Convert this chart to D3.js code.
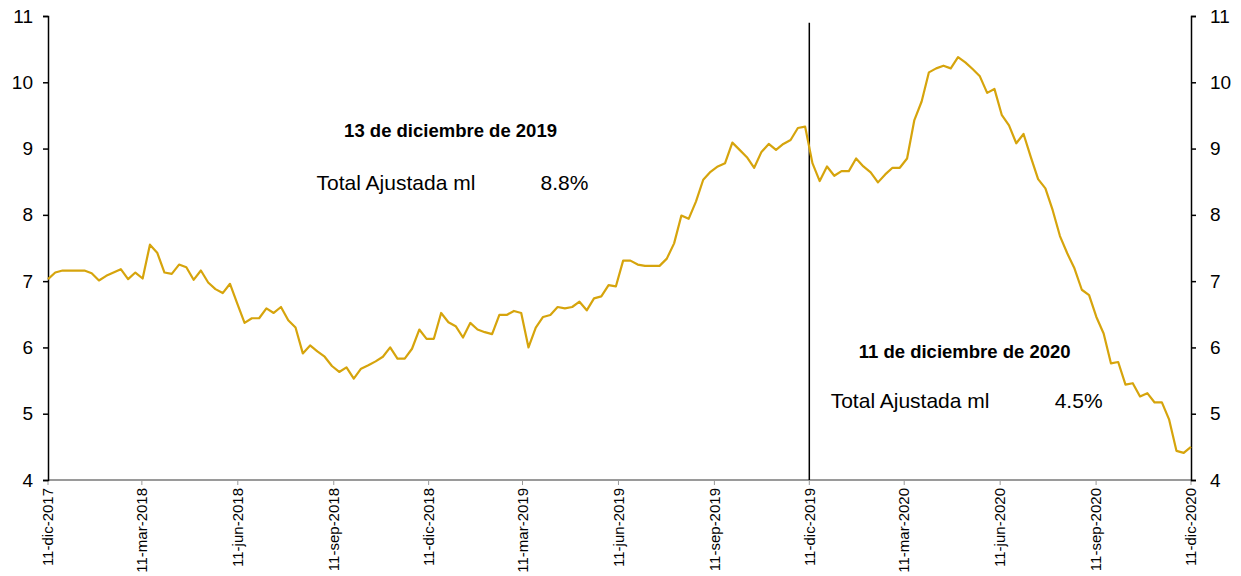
<!DOCTYPE html>
<html>
<head>
<meta charset="utf-8">
<script src="https://cdn.jsdelivr.net/npm/d3@7"></script>
<style>
    body { margin: 0; background: #fff; }
    svg text { font-family: "Liberation Sans", Arial, sans-serif; fill: #000; }
</style>
</head>
<body>
<div id="chart"></div>
<script>
// first and last date of the weekly series
const startDate = new Date(2017, 11, 11);
const endDate = new Date(2020, 11, 11);

// Total Ajustada ml, weekly, %
const values = [
    7.03, 7.13, 7.16, 7.16, 7.16, 7.16, 7.12, 7.01, 7.08, 7.13,
    7.18, 7.03, 7.13, 7.04, 7.55, 7.43, 7.13, 7.11, 7.25, 7.21,
    7.02, 7.16, 6.98, 6.88, 6.82, 6.96, 6.66, 6.37, 6.44, 6.44,
    6.59, 6.52, 6.61, 6.41, 6.30, 5.91, 6.03, 5.94, 5.86, 5.72,
    5.63, 5.70, 5.53, 5.68, 5.73, 5.79, 5.86, 6.00, 5.83, 5.83,
    5.98, 6.27, 6.13, 6.13, 6.52, 6.38, 6.32, 6.15, 6.37, 6.27,
    6.23, 6.20, 6.49, 6.49, 6.55, 6.52, 6.00, 6.30, 6.46, 6.49,
    6.61, 6.59, 6.61, 6.69, 6.56, 6.74, 6.77, 6.94, 6.92, 7.31,
    7.31, 7.25, 7.23, 7.23, 7.23, 7.34, 7.57, 7.99, 7.94, 8.20,
    8.53, 8.65, 8.73, 8.78, 9.09, 8.98, 8.87, 8.71, 8.95, 9.07,
    8.98, 9.07, 9.13, 9.31, 9.33, 8.78, 8.51, 8.73, 8.59, 8.66,
    8.66, 8.85, 8.73, 8.64, 8.49, 8.61, 8.71, 8.71, 8.85, 9.43,
    9.71, 10.15, 10.21, 10.25, 10.21, 10.38, 10.30, 10.20, 10.09, 9.84,
    9.90, 9.51, 9.35, 9.08, 9.22, 8.87, 8.54, 8.40, 8.07, 7.68,
    7.42, 7.19, 6.87, 6.79, 6.46, 6.21, 5.76, 5.78, 5.44, 5.46,
    5.26, 5.31, 5.17, 5.17, 4.91, 4.44, 4.41, 4.50
];

const tickDates = [
    new Date(2017, 11, 11), new Date(2018, 2, 11), new Date(2018, 5, 11),
    new Date(2018, 8, 11), new Date(2018, 11, 11), new Date(2019, 2, 11),
    new Date(2019, 5, 11), new Date(2019, 8, 11), new Date(2019, 11, 11),
    new Date(2020, 2, 11), new Date(2020, 5, 11), new Date(2020, 8, 11),
    new Date(2020, 11, 11)
];
const meses = ['ene', 'feb', 'mar', 'abr', 'may', 'jun', 'jul', 'ago', 'sep', 'oct', 'nov', 'dic'];
const yTicks = [4, 5, 6, 7, 8, 9, 10, 11];

const markerDate = new Date(2019, 11, 11);
const notes = [
    { title: '13 de diciembre de 2019', label: 'Total Ajustada ml', value: '8.8%', date: new Date(2019, 0, 1), y: 9.17, vy: 8.38 },
    { title: '11 de diciembre de 2020', label: 'Total Ajustada ml', value: '4.5%', date: new Date(2020, 4, 8), y: 5.84, vy: 5.09 }
];

const width = 1241;
const height = 576;
const margin = { top: 16, right: 50, bottom: 96, left: 48 };

const svg = d3.select('#chart')
    .append('svg')
    .attr('width', width)
    .attr('height', height);

const x = d3.scaleTime()
    .domain([startDate, endDate])
    .range([margin.left, width - margin.right]);

const y = d3.scaleLinear()
    .domain([4, 11])
    .range([height - margin.bottom, margin.top]);

const points = values.map((v, i) => ({
    date: new Date(+startDate + i * (endDate - startDate) / (values.length - 1)),
    value: v
}));

const fmt = d => `${d.getDate()}-${meses[d.getMonth()]}-${d.getFullYear()}`;

// bottom axis (grey)
svg.append('line')
    .attr('x1', x(startDate)).attr('x2', x(endDate))
    .attr('y1', y(4)).attr('y2', y(4))
    .attr('stroke', '#9a9a9a')
    .attr('stroke-width', 2);

svg.append('g')
    .selectAll('line')
    .data(tickDates)
    .enter()
    .append('line')
    .attr('x1', d => x(d)).attr('x2', d => x(d))
    .attr('y1', y(4)).attr('y2', y(4) + 5)
    .attr('stroke', '#9a9a9a')
    .attr('stroke-width', 1);

svg.append('g')
    .selectAll('text')
    .data(tickDates)
    .enter()
    .append('text')
    .attr('transform', d => `translate(${x(d)},${y(4) + 8}) rotate(-90)`)
    .attr('text-anchor', 'end')
    .attr('dy', '0.35em')
    .style('font-size', '15px')
    .text(fmt);

// left and right axes
const yLeft = d3.axisLeft(y).tickValues(yTicks).tickFormat(d3.format('d')).tickSize(5).tickPadding(10);
const yRight = d3.axisRight(y).tickValues(yTicks).tickFormat(d3.format('d')).tickSize(5).tickPadding(14);

svg.append('g')
    .attr('transform', `translate(${x(startDate)},0)`)
    .call(yLeft)
    .call(g => g.selectAll('text').style('font-size', '19px'));

svg.append('g')
    .attr('transform', `translate(${x(endDate)},0)`)
    .call(yRight)
    .call(g => g.selectAll('text').style('font-size', '19px'));

svg.selectAll('.domain, .tick line')
    .attr('stroke', '#000')
    .attr('stroke-width', 1.5);

// vertical marker
svg.append('line')
    .attr('x1', x(markerDate)).attr('x2', x(markerDate))
    .attr('y1', y(10.9)).attr('y2', y(4))
    .attr('stroke', '#000')
    .attr('stroke-width', 1.5);

// series
const line = d3.line()
    .x(d => x(d.date))
    .y(d => y(d.value));

svg.append('path')
    .datum(points)
    .attr('d', line)
    .attr('fill', 'none')
    .attr('stroke', '#d6a40c')
    .attr('stroke-width', 2.2)
    .attr('stroke-linejoin', 'round');

// annotations
notes.forEach(n => {
    svg.append('text')
        .attr('x', x(n.date))
        .attr('y', y(n.y))
        .attr('text-anchor', 'middle')
        .style('font-size', '18.5px')
        .style('font-weight', 'bold')
        .text(n.title);

    svg.append('text')
        .attr('x', x(n.date) - 134)
        .attr('y', y(n.vy))
        .style('font-size', '21px')
        .text(n.label);

    svg.append('text')
        .attr('x', x(n.date) + 90)
        .attr('y', y(n.vy))
        .style('font-size', '21px')
        .text(n.value);
});
</script>
</body>
</html>
